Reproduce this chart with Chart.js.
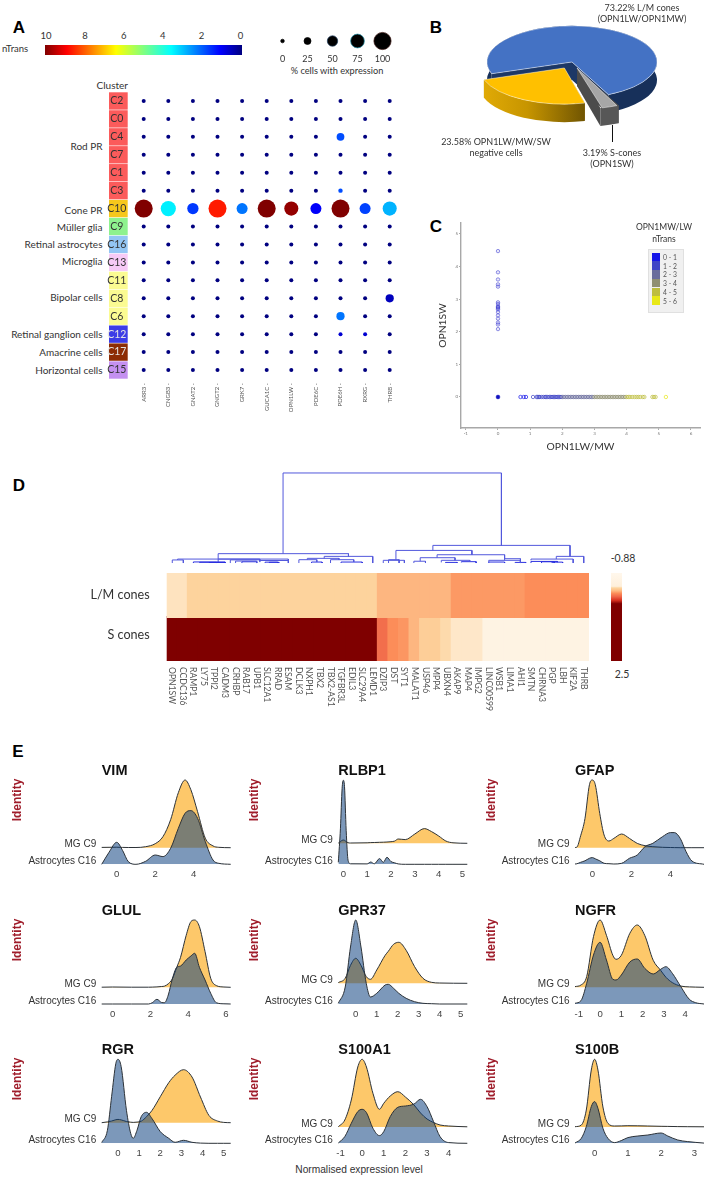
<!DOCTYPE html>
<html>
<head>
<meta charset="utf-8">
<script src="https://cdn.jsdelivr.net/npm/chart.js@4"></script>
<style>
  html, body { margin: 0; padding: 0; background: #fff; }
  #page { position: relative; width: 709px; height: 1179px; overflow: hidden; }
  #page canvas { position: absolute; }
  .txt { position: absolute; white-space: nowrap; line-height: 1; }
</style>
</head>
<body>
<div id="page"></div>
<script>
// ---- panel A data ----
const clusters = ['C2','C0','C4','C7','C1','C3','C10','C9','C16','C13','C11','C8','C6','C12','C17','C15'];
const clusterColors = ['#fb5b5b','#fb5b5b','#fb5b5b','#fb5b5b','#fb5b5b','#fb5b5b','#f6c71c','#8ef28e','#93c6f4','#f6caf6','#fbfb92','#fbfb92','#fbfb92','#3c3ce6','#8c2c04','#c490f0'];
const dotGenes = ['ARR3 -','CNGB3 -','GNAT2 -','GNGT2 -','GRK7 -','GUCA1C -','OPN1LW -','PDE6C -','PDE6H -','RXRG -','THRB -'];
const pctCells = [
  [0,0,0,0,0,0,0,0,0,0,0],
  [0,0,0,0,0,0,0,0,0,0,0],
  [0,0,0,0,0,0,0,0,27,0,0],
  [0,0,0,0,0,0,0,0,0,0,0],
  [0,0,0,0,0,0,0,0,0,0,0],
  [0,0,0,0,0,0,0,0,3,0,0],
  [100,80,52,100,50,100,72,50,100,50,72],
  [0,0,0,0,0,0,0,0,0,0,0],
  [0,0,0,0,0,0,0,0,0,0,0],
  [0,0,0,0,0,0,0,0,0,0,0],
  [0,0,0,0,0,0,0,0,0,0,0],
  [0,0,0,0,0,0,0,0,0,0,30],
  [0,0,0,0,0,0,0,0,30,0,0],
  [0,0,0,0,0,0,0,0,0,0,0],
  [0,0,0,0,0,0,0,0,0,0,0],
  [0,0,0,0,0,0,0,0,0,0,0]
];
const nTrans = [
  [0,0,0,0,0,0,0,0,0,0,0],
  [0,0,0,0,0,0,0,0,0,0,0],
  [0,0,0,0,0,0,0,0,2,0,0],
  [0,0,0,0,0,0,0,0,0,0,0],
  [0,0,0,0,0,0,0,0,0,0,0],
  [0,0,0,0,0,0,0,0,2,0,0],
  [10,3.6,1.8,8.5,2.4,10,9.8,1.2,10,1.9,3],
  [0,0,0,0,0,0,0,0,0,0,0],
  [0,0,0,0,0,0,0,0,0,0,0],
  [0,0,0,0,0,0,0,0,0,0,0],
  [0,0,0,0,0,0,0,0,0,0,0],
  [0,0,0,0,0,0,0,0,0,0,0.6],
  [0,0,0,0,0,0,0,0,2.4,0,0],
  [0,0,0,0,0,0,0,0,0.8,0.8,0],
  [0,0,0,0,0,0,0,0,0,0,0],
  [0,0,0,0,0,0,0,0,0,0,0]
];
const sizeLegendPct = ['0','25','50','75','100'];
const colorbarTicks = ['10','8','6','4','2','0'];

// ---- panel B data ----
const coneLabels = ['L/M cones','S-cones','negative cells'];
const conePct = [73.22, 3.19, 23.58];

// ---- panel C data ----
const swAtZeroLw = [4.47,3.82,3.6,3.45,3.38,2.9,2.85,2.78,2.75,2.72,2.68,2.6,2.5,2.4,2.28,2.22,2.08];
const lwAtZeroSw = [0.7,0.8,0.87,1.09,1.2,1.23,1.27,1.3,1.36,1.42,1.47,1.5,1.55,1.6,1.64,1.68,1.72,1.76,1.8,1.84,1.88,1.92,1.96,
  2.0,2.05,2.1,2.15,2.2,2.25,2.3,2.35,2.4,2.45,2.5,2.55,2.6,2.65,2.7,2.75,2.8,2.85,2.9,2.95,
  3.0,3.05,3.1,3.15,3.2,3.25,3.3,3.35,3.4,3.45,3.5,3.55,3.6,3.65,3.7,3.75,3.8,3.85,3.9,3.95,
  4.0,4.05,4.1,4.17,4.24,4.3,4.36,4.42,4.5,4.55,4.8,4.85,4.9,5.22];
const lwBins = ['0 - 1','1 - 2','2 - 3','3 - 4','4 - 5','5 - 6'];
const lwBinColors = ['#1414e8','#3d43c6','#6a6d9c','#8f8f72','#bdbd3e','#e8e816'];
const cTicksX = [-1,0,1,2,3,4,5,6];
const cTicksY = [0,1,2,3,4,5];

// ---- panel D data ----
const heatGenes = ['OPN1SW','CCDC136','RAMP1','LY75','TPPI2','CADM3','CRHBP','RAB17','UPB1','SLC12A1','RRAD','ESAM','DCLK3','NXPH1','TBX2','TBX2-AS1','TGFBR3L','EDIL3','SLC29A4','LEMD1',
  'DZIP3','DST','SYT1','MALAT1','USP46','MPP4','UBXN4','AKAP9','MAP4','IMPG2','LINC00599','WSB1','LIMA1','AHI1','SMTN','CHRNA3','PGP','LBH','KIF2A','THRB'];
const lmCones = [-0.34,-0.34,-0.3,-0.3,-0.3,-0.3,-0.3,-0.3,-0.3,-0.3,-0.3,-0.3,-0.3,-0.3,-0.3,-0.3,-0.3,-0.3,-0.3,-0.3,
  -0.19,-0.19,-0.19,-0.19,-0.19,-0.19,-0.19,-0.125,-0.125,-0.125,-0.125,-0.125,-0.125,-0.125,-0.1,-0.1,-0.1,-0.1,-0.1,-0.1];
const sCones = [2.5,2.5,2.5,2.5,2.5,2.5,2.5,2.5,2.5,2.5,2.5,2.5,2.5,2.5,2.5,2.5,2.5,2.5,2.5,2.5,
  0,-0.1,-0.12,-0.19,-0.28,-0.28,-0.32,-0.35,-0.35,-0.35,-0.6,-0.6,-0.6,-0.6,-0.6,-0.6,-0.6,-0.6,-0.6,-0.6];
// leaf position left, leaf position right, merge height, left foot, right foot
const dendroLinks = [
  [10.5,31.2,1,0.104,0.196],[4.35,16.7,0.104,0.044,0.074],[0.5,11,0.044,0.034,0.028],[0,1.05,0.034,0,0],
  [2,5,0.012,0,0],[2.6,4.2,0.008,0,0],[3.5,5,0.006,0,0],[4.35,8.3,0.044,0.012,0.035],[5.5,8.3,0.035,0,0.018],[6,8,0.022,0,0],[6.6,8,0.014,0,0],
  [8.3,11,0.028,0.01,0],[8.8,10,0.01,0,0],[9.2,10.1,0.008,0,0],
  [14.4,19,0.074,0.052,0],[12.8,15.8,0.052,0.037,0.037],[12,13.7,0.037,0,0.011],[13.2,14.2,0.011,0,0],[15,17.2,0.037,0,0.011],[16,18,0.011,0,0],
  [24.7,37.7,0.196,0.14,0.074],[21.2,28.4,0.14,0.037,0.092],[20,22,0.03,0,0],[20.5,21.5,0.037,0,0],
  [25.1,31.5,0.092,0.059,0.048],[23.5,26.8,0.059,0.02,0.03],[22.9,24,0.02,0,0],[25.5,28.2,0.03,0.007,0.015],[25.9,27,0.007,0,0],[27.4,28.8,0.015,0.007,0],
  [31.5,33,0.048,0.03,0],[30,33,0.03,0.01,0],[30,31.5,0.011,0,0],[32.5,33.5,0.007,0,0],
  [36.4,39,0.074,0.044,0],[34,38,0.044,0.03,0],[34,36.5,0.018,0,0.01],[35,36.2,0.014,0,0],[36,37,0.01,0,0]
];

// ---- panel E data: heights above each ridge's own baseline ----
const vimX = [-0.78,-0.4,0,0.3,0.6,1,1.5,2,2.4,2.8,3.2,3.55,3.85,4.2,4.6,5,5.3,5.92];
const vimMg = [0.3,0.4,0.5,0.3,0.2,0.2,1,4,11,28,55,67.7,58,36,9.5,1.8,0.4,0];
const vimAstro = [0,12,22,14,2.7,0,3,9.3,7.7,16,36,51,53.7,46,22.7,4.3,1,0];
const rlbp1X = [-0.21,-0.12,-0.05,0,0.05,0.12,0.2,0.3,1,1.15,1.3,1.52,1.68,1.83,2,2.15,2.3,2.6,3,3.4,3.7,4,4.3,4.6,5.2];
const rlbp1Mg = [0.2,1.7,3,3.3,3,1.7,0.6,0.3,0.5,0.7,0.8,1,1.1,1.3,1.6,2.2,4.3,3.7,9.3,14.7,11.7,7.3,2.3,0.5,0];
const rlbp1Astro = [2,36,76,84,78,34,4,0.5,0.4,2.3,0.5,5.7,2,7,2.7,1.5,0.4,0,0,0,0,0,0,0,0];
const gfapX = [-0.89,-0.8,-0.6,-0.38,-0.15,0,0.15,0.38,0.6,0.85,1.1,1.5,1.9,2.3,2.7,3.1,3.6,4,4.2,4.5,4.8,5.1,5.72];
const gfapMg = [0.2,0.5,12,29,63,67.7,63,34,12.7,6.7,9.3,13.7,9.3,4.3,2,1,0.4,0.2,0.1,0,0,0,0];
const gfapAstro = [0.3,0.5,2,3.5,6,6.7,5.5,3.5,1,0.6,0.3,1,6,9.3,17.7,21,27.7,31.7,31.7,26,12.7,3.3,0];
const glulX = [-0.58,0,1,1.9,2.1,2.35,2.6,2.75,2.95,3.15,3.4,3.6,3.9,4.15,4.35,4.6,4.9,5.2,5.5,5.9,6.26];
const glulMg = [0.1,0.3,0.1,0.1,0.2,0.4,0.8,1.2,3.5,8,20,30,52,65.7,67.3,60.7,35.7,9,1.7,0.3,0];
const glulAstro = [0,0,0,0,1.3,4.7,1.5,1.3,9,24,36.7,38,44,48,50.7,36.7,24,10.7,1.3,0.2,0];
const gpr37X = [-0.83,-0.5,-0.25,0,0.25,0.5,0.7,1,1.4,1.55,1.8,2.05,2.4,2.8,3.2,3.6,4,5.31];
const gpr37Mg = [0.7,5,18,25,18,6.7,4,13.3,28,32,39,41,33,16.7,5,1,0.3,0];
const gpr37Astro = [0.7,17,57,84,57,20.7,7,10.7,19,19.7,15.7,10.7,5.7,2.3,0.7,0.3,0,0];
const ngfrX = [-1.18,-0.9,-0.63,-0.31,0,0.3,0.6,0.75,1,1.4,1.75,2.1,2.5,2.85,3.1,3.4,3.8,4.2,4.5,4.89];
const ngfrMg = [0.7,2.3,10.7,50.7,67.3,52,32,28,32,54,62.3,52,27,17,10,4.7,1.2,0.4,0.2,0];
const ngfrAstro = [0.7,3.3,20.7,49,61.7,44,24.7,24,29,42,45,35.7,30,34.7,37.3,30.7,17.3,4.7,1.3,0];
const rgrX = [-0.77,-0.5,-0.3,-0.1,0,0.15,0.4,0.6,0.72,0.9,1.1,1.35,1.6,2,2.4,2.7,3.1,3.5,3.9,4.3,4.7,5,5.33];
const rgrMg = [0,0.8,1.7,3,3.3,2.8,1.2,0.5,0.3,0.6,1.5,6,12,26,40,47.5,53,45.7,25.7,7.3,1.7,0.3,0];
const rgrAstro = [0.7,13,47,80,84,76.7,33,10,5,13,26.7,31,25,11.7,5,1,3,1,0.2,0,0,0,0];
const s100a1X = [-1.1,-0.8,-0.5,-0.2,0,0.2,0.5,0.8,1,1.3,1.65,2,2.4,2.7,3,3.3,3.6,4,4.86];
const s100a1Mg = [0.3,7,27,60,67.7,60,33.7,17.7,23.7,31,35.3,30,22,14,8,4.5,2,1,0.2];
const s100a1Astro = [0.3,6.7,20,31.7,34,30.7,15,7.7,11.7,26.7,36,37.3,39.3,44,36.7,21.7,6.7,0.7,0];
const s100bX = [-0.59,-0.4,-0.25,-0.1,0,0.1,0.25,0.4,0.6,0.8,1,1.3,1.6,2,2.2,2.5,2.8,3.29];
const s100bMg = [0.3,2,17,57,67.7,57,20,3.7,1,1.1,1.3,1.2,1,0.7,0.6,0.4,0.3,0.2];
const s100bAstro = [0.3,5,16.7,36.7,41.7,35,15,5,0.7,2.7,5.7,7.3,8.3,10.3,7.3,3.3,1.7,0.2];

// Defaults
const SANS = "'Liberation Sans', sans-serif";
const LATO = "Lato, sans-serif";
Chart.defaults.font.family = SANS;
Chart.defaults.animation = false;
Chart.defaults.responsive = false;
Chart.defaults.maintainAspectRatio = false;
Chart.defaults.layout.autoPadding = false;
Chart.defaults.plugins.legend.display = false;
Chart.defaults.plugins.tooltip.enabled = false;
Chart.defaults.events = [];

const page = document.getElementById('page');

function addCanvas(left, top, width, height) {
  const c = document.createElement('canvas');
  c.width = width;
  c.height = height;
  c.style.left = left + 'px';
  c.style.top = top + 'px';
  c.style.width = width + 'px';
  c.style.height = height + 'px';
  page.appendChild(c);
  return c;
}

// x is the anchor picked by align, y is the text's middle
function addText(text, x, y, size, opts = {}) {
  const d = document.createElement('div');
  d.className = 'txt';
  d.textContent = text;
  const align = opts.align || 'center';
  const tx = align === 'center' ? '-50%' : align === 'right' ? '-100%' : '0';
  d.style.left = x + 'px';
  d.style.top = y + 'px';
  d.style.fontSize = size + 'px';
  d.style.fontFamily = opts.font || LATO;
  d.style.fontWeight = opts.weight || 'normal';
  d.style.color = opts.color || '#333';
  d.style.transform = `translate(${tx}, -50%)` + (opts.rotate ? ` rotate(${opts.rotate}deg)` : '');
  page.appendChild(d);
  return d;
}

function addBox(left, top, width, height, background, extra = '') {
  const d = document.createElement('div');
  d.style.cssText = `position:absolute;left:${left}px;top:${top}px;width:${width}px;height:${height}px;background:${background};${extra}`;
  page.appendChild(d);
}

// fixed axis sizes, and no extra room for the labels at the axis ends
const pinWidth = w => s => { s.width = w; s.paddingTop = 0; s.paddingBottom = 0; };
const pinHeight = h => s => { s.height = h; s.paddingLeft = 0; s.paddingRight = 0; };

function jet(v) {
  const t = v / 10;
  const c = k => Math.round(255 * Math.min(1, Math.max(0, 1.5 - Math.abs(4 * t - k))));
  return `rgb(${c(3)},${c(2)},${c(1)})`;
}

// Panel letters
[['A',19,27],['B',436,27],['C',436,226],['D',19,485],['E',18,751]].forEach(([l, x, y]) =>
  addText(l, x, y, 17, { font: SANS, weight: 'bold', color: '#000' }));

// ============================================================
// Panel A
// ============================================================
addText('nTrans', 2, 49, 9.5, { align: 'left' });
addBox(45, 45, 197, 10, 'linear-gradient(to right,#800000 0%,#ff0000 11%,#ffff00 36%,#80ff80 50%,#00ffff 64%,#0000ff 89%,#00007f 100%)');
colorbarTicks.forEach((t, i) => addText(t, 46 + i * 38.9, 36, 9.5));
addText('% cells with expression', 337, 71, 9.2);
addText('Cluster', 128, 85, 10, { align: 'right' });

[['Rod PR',146],['Cone PR',210],['Müller glia',227],['Retinal astrocytes',244],['Microglia',261],['Bipolar cells',297],
 ['Retinal ganglion cells',334],['Amacrine cells',352],['Horizontal cells',370]]
  .forEach(([t, y]) => addText(t, 102.5, y, 10, { align: 'right' }));

const dotPoints = [];
clusters.forEach((cl, r) => dotGenes.forEach((g, c) => dotPoints.push({
  x: g, y: cl,
  r: 2 + pctCells[r][c] * 0.07,
  color: jet(nTrans[r][c])
})));

const clusterCells = {
  id: 'clusterCells',
  beforeDraw(chart) {
    const { ctx, scales: { y } } = chart;
    const band = y.getPixelForValue(1) - y.getPixelForValue(0);
    clusters.forEach((cl, i) => {
      ctx.fillStyle = clusterColors[i];
      ctx.fillRect(4, y.getPixelForValue(i) - band / 2 + 0.3, 18.7, band - 0.6);
    });
  }
};

new Chart(addCanvas(105, 92, 297, 327), {
  type: 'bubble',
  data: {
    datasets: [{
      data: dotPoints,
      backgroundColor: dotPoints.map(p => p.color),
      borderWidth: 0,
      clip: false
    }]
  },
  options: {
    scales: {
      x: {
        type: 'category', labels: dotGenes, offset: true,
        grid: { display: false, drawTicks: false }, border: { display: false },
        ticks: { minRotation: 90, maxRotation: 90, autoSkip: false, padding: 4, color: '#555', font: { size: 6, family: LATO } },
        afterFit: pinHeight(40)
      },
      y: {
        type: 'category', labels: clusters, offset: true,
        grid: { display: false, drawTicks: false }, border: { display: false },
        ticks: {
          autoSkip: false, padding: 5, crossAlign: 'center',
          color: ctx => (ctx.index === 13 || ctx.index === 14) ? '#e4e4e4' : '#333',
          font: { size: 10.5, family: LATO }
        },
        afterFit: pinWidth(26.4)
      }
    }
  },
  plugins: [clusterCells]
});

// size legend
new Chart(addCanvas(270, 25, 125, 42), {
  type: 'bubble',
  data: {
    datasets: [{
      data: sizeLegendPct.map(p => ({ x: p, y: 0, r: 1.8 + (+p) * 0.068 })),
      backgroundColor: '#000',
      borderColor: ['#000','#000','#1b3a5a','#2a9ab0','#3a1410'],
      borderWidth: 0.7,
      clip: false
    }]
  },
  options: {
    scales: {
      x: {
        type: 'category', labels: sizeLegendPct, offset: true,
        grid: { display: false, drawTicks: false }, border: { display: false },
        ticks: { padding: 1, minRotation: 0, maxRotation: 0, autoSkip: false, color: '#333', font: { size: 9, family: LATO } },
        afterFit: pinHeight(14)
      },
      y: { display: false, min: -12, max: 16 }
    }
  }
});

// ============================================================
// Panel B: pie drawn flat by Chart.js, tilted and extruded by a plugin
// ============================================================
const PIE_SQUASH = 0.425;
const PIE_DEPTH = 18;
const PIE_CENTER_Y = 62;

function arcGeometry(arc) {
  const offset = (arc.options.offset || 0) / 4;
  const half = (arc.startAngle + arc.endAngle) / 2;
  const fix = 1 - Math.sin(Math.min(Math.PI, arc.circumference));
  return {
    x: arc.x + Math.cos(half) * offset,
    y: arc.y + Math.sin(half) * offset,
    r: arc.outerRadius + offset * fix,
    s: arc.startAngle,
    e: arc.endAngle
  };
}

const tiltedPie = {
  id: 'tiltedPie',
  beforeDatasetsDraw(chart) {
    const { ctx } = chart;
    const arcs = chart.getDatasetMeta(0).data;
    const cx = arcs[0].x, cy = arcs[0].y;
    ctx.save();
    ctx.translate(cx, PIE_CENTER_Y);
    ctx.scale(1, PIE_SQUASH);
    ctx.translate(-cx, -cy);
    const d = PIE_DEPTH / PIE_SQUASH;
    const walls = [['#1d3866','#17305a'], ['#4c4c4c','#575757'], null];
    arcs.forEach((arc, i) => {
      const g = arcGeometry(arc);
      let faceColor, wallColor;
      if (i === 2) {
        const grad = ctx.createLinearGradient(g.x - g.r, 0, g.x + g.r * 0.25, 0);
        grad.addColorStop(0, '#e3ac06');
        grad.addColorStop(0.45, '#c79500');
        grad.addColorStop(1, '#6f5402');
        faceColor = '#8a6a02';
        wallColor = grad;
      } else {
        faceColor = walls[i][0];
        wallColor = walls[i][1];
      }
      // cut faces
      ctx.fillStyle = faceColor;
      [g.s, g.e].forEach(a => {
        const px = g.x + Math.cos(a) * g.r, py = g.y + Math.sin(a) * g.r;
        ctx.beginPath();
        ctx.moveTo(g.x, g.y);
        ctx.lineTo(px, py);
        ctx.lineTo(px, py + d);
        ctx.lineTo(g.x, g.y + d);
        ctx.closePath();
        ctx.fill();
      });
      // outer wall
      ctx.fillStyle = wallColor;
      ctx.beginPath();
      ctx.arc(g.x, g.y, g.r, g.s, g.e);
      ctx.arc(g.x, g.y + d, g.r, g.e, g.s, true);
      ctx.closePath();
      ctx.fill();
    });
  },
  afterDatasetsDraw(chart) {
    chart.ctx.restore();
  }
};

new Chart(addCanvas(460, 0, 224, 224), {
  type: 'pie',
  data: {
    labels: coneLabels,
    datasets: [{
      data: conePct,
      backgroundColor: ['#4472c4','#a6a6a6','#ffc000'],
      borderColor: 'rgba(255,255,255,0.65)',
      borderWidth: 1,
      offset: [0, 60, 64],
      clip: false
    }]
  },
  options: { rotation: 251, radius: 85 },
  plugins: [tiltedPie]
});

addText('73.22% L/M cones', 642, 7, 9);
addText('(OPN1LW/OPN1MW)', 642, 18, 9);
addText('23.58% OPN1LW/MW/SW', 496, 141, 9);
addText('negative cells', 496, 152, 9);
addText('3.19% S-cones', 612, 152, 9);
addText('(OPN1SW)', 612, 163, 9);
addBox(611.8, 125, 1, 17, '#111');

// ============================================================
// Panel C
// ============================================================
const binColor = x => lwBinColors[Math.min(5, Math.floor(x))];
new Chart(addCanvas(434, 218, 271, 238), {
  type: 'scatter',
  data: {
    datasets: [
      {
        data: swAtZeroLw.map(y => ({ x: 0, y })),
        borderColor: 'rgba(40,40,205,0.7)', backgroundColor: 'rgba(40,40,205,0.1)',
        pointRadius: 1.7, pointBorderWidth: 0.7
      },
      {
        data: [{ x: 0, y: 0 }],
        borderColor: '#1212c0', backgroundColor: '#1212c0', pointRadius: 1.9, pointBorderWidth: 0.5
      },
      {
        data: lwAtZeroSw.map(x => ({ x, y: 0 })),
        borderColor: lwAtZeroSw.map(binColor), backgroundColor: 'rgba(255,255,255,0)',
        pointRadius: 1.7, pointBorderWidth: 0.7
      }
    ]
  },
  options: {
    layout: { padding: { top: 5, right: 5 } },
    scales: {
      x: {
        type: 'linear', min: -1.15, max: 6.28,
        afterBuildTicks: s => { s.ticks = cTicksX.map(value => ({ value })); },
        grid: { drawOnChartArea: false, tickLength: 2, color: '#aaa' },
        border: { color: '#a8a8a8', width: 1.4 },
        ticks: { padding: 1, color: '#777', font: { size: 4.5, family: LATO } },
        title: { display: true, text: 'OPN1LW/MW', color: '#333', font: { size: 10.3, family: LATO }, padding: { top: 0, bottom: 3.5 } },
        afterFit: pinHeight(28)
      },
      y: {
        type: 'linear', min: -0.95, max: 5.33,
        afterBuildTicks: s => { s.ticks = cTicksY.map(value => ({ value })); },
        grid: { drawOnChartArea: false, tickLength: 2, color: '#aaa' },
        border: { color: '#a8a8a8', width: 1.4 },
        ticks: { padding: 1, color: '#777', font: { size: 4.5, family: LATO } },
        title: { display: true, text: 'OPN1SW', color: '#333', font: { size: 10.3, family: LATO }, padding: { top: 2.5, bottom: 0 } },
        afterFit: pinWidth(27)
      }
    }
  }
});

addText('OPN1MW/LW', 664, 227, 8.5);
addText('nTrans', 664, 239, 8.5);
addBox(648, 249, 36, 64, '#f0f0f0', 'border:0.5px solid #e0e0e0;box-sizing:border-box;');
lwBins.forEach((b, i) => {
  addBox(651.7, 252.7 + i * 8.7, 8.3, 8.7, lwBinColors[i]);
  addText(b, 663, 257 + i * 8.7, 6.8, { align: 'left', color: '#555' });
});

// ============================================================
// Panel D
// ============================================================
const heatStops = [[-0.88,[255,247,236]],[-0.37,[254,240,220]],[-0.305,[253,212,158]],[-0.2,[253,187,132]],[-0.1,[252,141,89]],[0.03,[239,101,72]],[0.17,[215,48,31]],[0.3,[127,0,0]],[2.5,[127,0,0]]];
function heatColor(v) {
  for (let i = 1; i < heatStops.length; i++) {
    if (v <= heatStops[i][0]) {
      const [a, ca] = heatStops[i - 1], [b, cb] = heatStops[i];
      const f = (v - a) / (b - a);
      return `rgb(${ca.map((c, k) => Math.round(c + (cb[k] - c) * f)).join(',')})`;
    }
  }
  return 'rgb(127,0,0)';
}

new Chart(addCanvas(167, 470, 422, 96), {
  type: 'scatter',
  data: {
    datasets: dendroLinks.map(([xl, xr, top, fl, fr]) => ({
      data: [{ x: xl, y: fl }, { x: xl, y: top }, { x: xr, y: top }, { x: xr, y: fr }],
      showLine: true, borderColor: top < 0.02 ? '#2a2fe0' : '#5258dc', borderWidth: 1, pointRadius: 0, clip: false
    }))
  },
  options: {
    scales: {
      x: { type: 'linear', display: false, min: -0.5, max: 39.5 },
      y: { type: 'linear', display: false, min: -0.033, max: 1.033 }
    }
  }
});

const heatGeneLabels = {
  id: 'heatGeneLabels',
  afterDraw(chart) {
    const { ctx, chartArea, scales: { x } } = chart;
    ctx.save();
    ctx.font = `8.6px ${LATO}`;
    ctx.fillStyle = '#555';
    ctx.textBaseline = 'middle';
    heatGenes.forEach((g, i) => {
      ctx.save();
      ctx.translate(x.getPixelForValue(i), chartArea.bottom + 6);
      ctx.rotate(Math.PI / 2);
      ctx.fillText(g, 0, 0);
      ctx.restore();
    });
    ctx.restore();
  }
};

new Chart(addCanvas(87, 573, 503, 152), {
  type: 'bar',
  data: {
    labels: heatGenes,
    datasets: [
      { data: lmCones.map(() => [1, 2]), backgroundColor: lmCones.map(heatColor), barPercentage: 1, categoryPercentage: 1, grouped: false, inflateAmount: 1 },
      { data: sCones.map(() => [0, 1]), backgroundColor: sCones.map(heatColor), barPercentage: 1, categoryPercentage: 1, grouped: false, inflateAmount: 1 }
    ]
  },
  options: {
    layout: { padding: { right: 1 } },
    scales: {
      x: {
        grid: { display: false, drawTicks: false }, border: { display: false },
        ticks: { display: false },
        afterFit: pinHeight(64)
      },
      y: {
        type: 'linear', min: 0, max: 2,
        afterBuildTicks: s => { s.ticks = [{ value: 0.59 }, { value: 1.5 }]; },
        grid: { display: false, drawTicks: false }, border: { display: false },
        ticks: {
          padding: 17, color: '#333', font: { size: 12.6, family: LATO },
          callback: v => (v > 1 ? 'L/M cones' : 'S cones')
        },
        afterFit: pinWidth(79.7)
      }
    }
  },
  plugins: [heatGeneLabels]
});

addText('-0.88', 623, 558, 10.5);
addText('2.5', 622, 674, 10.5);
const heatBarStops = heatStops.map(([v, c]) => `rgb(${c.join(',')}) ${((v + 0.88) / 3.38 * 100).toFixed(1)}%`).join(',');
addBox(611, 573, 11, 88, `linear-gradient(to bottom,${heatBarStops})`);

// ============================================================
// Panel E
// ============================================================
const MG_LABEL = 'MG C9';
const ASTRO_LABEL = 'Astrocytes C16';
const colAreas = [[101.7, 230.7, 16.7], [338.3, 467.3, 254], [575, 704, 490.7]];
const rowBaselines = [864.3, 1004, 1143.3];

function createRidge(gene, xs, mg, astro, ticks, xMin, xMax, col, row, gap) {
  const [areaL, areaR, identX] = colAreas[col];
  const base = rowBaselines[row];
  const left = Math.floor(areaL) - 80;
  const top = Math.floor(base) - 92;
  const width = Math.ceil(areaR) - left;
  const height = 110;
  const yMax = base - top;
  new Chart(addCanvas(left, top, width, height), {
    type: 'scatter',
    data: {
      datasets: [
        {
          data: xs.map((x, i) => ({ x, y: astro[i] })),
          showLine: true, pointRadius: 0, borderColor: '#2c3238', borderWidth: 1,
          cubicInterpolationMode: 'monotone', backgroundColor: 'rgba(8,60,125,0.53)',
          fill: { value: 0 }, clip: false
        },
        {
          data: xs.map((x, i) => ({ x, y: gap + mg[i] })),
          showLine: true, pointRadius: 0, borderColor: '#2c3238', borderWidth: 1,
          cubicInterpolationMode: 'monotone', backgroundColor: '#fdc86a',
          fill: { value: gap }, clip: false
        }
      ]
    },
    options: {
      layout: { padding: { right: width - (areaR - left) } },
      scales: {
        x: {
          type: 'linear', min: xMin, max: xMax,
          afterBuildTicks: s => { s.ticks = ticks.map(value => ({ value })); },
          grid: { display: false, drawTicks: false }, border: { display: false },
          ticks: { padding: 4.5, color: '#444', maxRotation: 0, font: { size: 9.6 } },
          afterFit: pinHeight(height - yMax)
        },
        y: {
          type: 'linear', min: 0, max: yMax,
          afterBuildTicks: s => { s.ticks = [{ value: 3.2 }, { value: gap + 3.2 }]; },
          grid: { display: false, drawTicks: false }, border: { display: false },
          ticks: {
            padding: 5.5, color: '#333', font: { size: 10 },
            callback: v => (v < 4 ? ASTRO_LABEL : MG_LABEL)
          },
          afterFit: pinWidth(areaL - left)
        }
      }
    }
  });
  addText(gene, areaL, base - 94.5, 14.5, { align: 'left', font: SANS, weight: 'bold', color: '#111' });
  addText('Identity', identX, base - 64, 12, { font: SANS, weight: 'bold', color: '#9f1c2a', rotate: -90 });
}

createRidge('VIM', vimX, vimMg, vimAstro, [0,2,4], -0.78, 5.92, 0, 0, 16.6);
createRidge('RLBP1', rlbp1X, rlbp1Mg, rlbp1Astro, [0,1,2,3,4,5], -0.21, 5.2, 1, 0, 21);
createRidge('GFAP', gfapX, gfapMg, gfapAstro, [0,2,4], -0.89, 5.72, 2, 0, 16.6);
createRidge('GLUL', glulX, glulMg, glulAstro, [0,2,4,6], -0.58, 6.26, 0, 1, 16.7);
createRidge('GPR37', gpr37X, gpr37Mg, gpr37Astro, [0,1,2,3,4,5], -0.83, 5.31, 1, 1, 20.7);
createRidge('NGFR', ngfrX, ngfrMg, ngfrAstro, [-1,0,1,2,3,4], -1.18, 4.89, 2, 1, 16.7);
createRidge('RGR', rgrX, rgrMg, rgrAstro, [0,1,2,3,4,5], -0.77, 5.33, 0, 2, 20.6);
createRidge('S100A1', s100a1X, s100a1Mg, s100a1Astro, [-1,0,1,2,3,4], -1.1, 4.86, 1, 2, 16.3);
createRidge('S100B', s100bX, s100bMg, s100bAstro, [0,1,2,3], -0.59, 3.29, 2, 2, 16.3);

addText('Normalised expression level', 359, 1170, 10.2, { font: SANS, color: '#333' });
</script>
</body>
</html>
